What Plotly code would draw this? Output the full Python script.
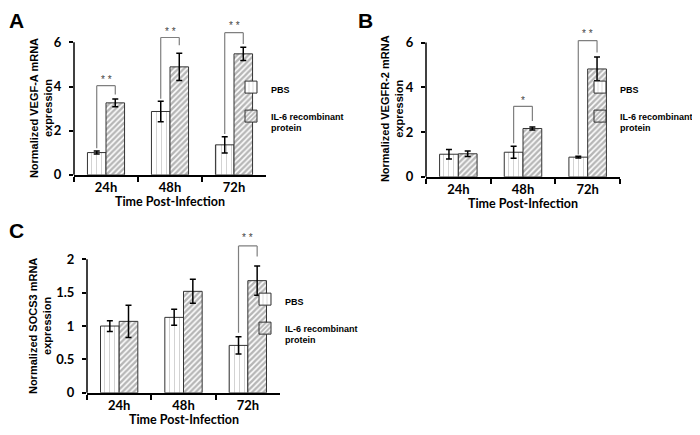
import plotly.graph_objects as go

categories = ["24h", "48h", "72h"]
series_names = ["PBS", "IL-6 recombinant<br>protein"]

# Panel A: VEGF-A
a_pbs = [1.01, 2.87, 1.36]
a_pbs_err = [0.07, 0.46, 0.37]
a_il6 = [3.26, 4.89, 5.48]
a_il6_err = [0.18, 0.62, 0.30]
a_sig = ["* *", "* *", "* *"]
a_brk_left = [1.20, 3.45, 1.85]
a_brk_top = [4.04, 6.22, 6.44]
a_brk_right = [3.64, 5.87, 5.92]
a_star_y = [4.30, 6.49, 6.76]

# Panel B: VEGFR-2
b_pbs = [1.01, 1.10, 0.88]
b_pbs_err = [0.21, 0.27, 0.04]
b_il6 = [1.03, 2.16, 4.82]
b_il6_err = [0.12, 0.07, 0.53]
b_sig = [None, "*", "* *"]
b_brk_left = [None, 1.50, 1.00]
b_brk_top = [None, 3.15, 6.09]
b_brk_right = [None, 2.50, 5.56]
b_star_y = [None, 3.40, 6.40]

# Panel C: SOCS3
c_pbs = [1.00, 1.13, 0.71]
c_pbs_err = [0.08, 0.12, 0.13]
c_il6 = [1.07, 1.52, 1.68]
c_il6_err = [0.24, 0.18, 0.22]
c_sig = [None, None, "* *"]
c_brk_left = [None, None, 0.90]
c_brk_top = [None, None, 2.20]
c_brk_right = [None, None, 2.04]
c_star_y = [None, None, 2.32]

W, H = 700, 435
bargap = 0.42
half = (1 - bargap) / 4.0

panels = [
    dict(letter="A", ax="", lg="legend", pbs=a_pbs, pbs_err=a_pbs_err, il6=a_il6, il6_err=a_il6_err,
         sig=a_sig, bl=a_brk_left, bt=a_brk_top, br=a_brk_right, sy=a_star_y,
         ytitle="Normalized VEGF-A mRNA<br>expression", tickvals=[0, 2, 4, 6], ticktext=["0", "2", "4", "6"], ytop=6,
         px0=66, px1=258, py0=170, scale=22.5, ymax=7.0, letter_xy=(0, 0), ytitle_xy=(33, 102),
         legend_xy=(223, 68)),
    dict(letter="B", ax="2", lg="legend2", pbs=b_pbs, pbs_err=b_pbs_err, il6=b_il6, il6_err=b_il6_err,
         sig=b_sig, bl=b_brk_left, bt=b_brk_top, br=b_brk_right, sy=b_star_y,
         ytitle="Normalized VEGFR-2 mRNA<br>expression", tickvals=[0, 2, 4, 6], ticktext=["0", "2", "4", "6"], ytop=6,
         px0=418, px1=612, py0=172, scale=22.8, ymax=7.0, letter_xy=(349, 0), ytitle_xy=(384, 103),
         legend_xy=(572, 68)),
    dict(letter="C", ax="3", lg="legend3", pbs=c_pbs, pbs_err=c_pbs_err, il6=c_il6, il6_err=c_il6_err,
         sig=c_sig, bl=c_brk_left, bt=c_brk_top, br=c_brk_right, sy=c_star_y,
         ytitle="Normalized SOCS3 mRNA<br>expression", tickvals=[0, 0.5, 1, 1.5, 2], ticktext=["0", "0.5", "1", "1.5", "2"], ytop=2,
         px0=79, px1=272, py0=392, scale=68.0, ymax=2.45, letter_xy=(0, 214), ytitle_xy=(32, 324),
         legend_xy=(237, 284)),
]

TICKFONT = dict(family="Lato", size=13, color="black", weight="bold")
ARIALB = "Liberation Sans"

fig = go.Figure()
shapes = []
annotations = []
layout_extra = {}

for p in panels:
    xa = "x" + p["ax"]
    ya = "y" + p["ax"]
    fig.add_trace(go.Bar(
        x=categories, y=p["pbs"], name=series_names[0], xaxis=xa, yaxis=ya, legend=p["lg"],
        legendgroup=p["letter"] + "pbs",
        error_y=dict(type="data", array=p["pbs_err"], color="black", thickness=1.5, width=3),
        marker=dict(color="white", line=dict(color="#333333", width=1),
                    pattern=dict(shape="|", fgcolor="#a8a8a8", bgcolor="white", size=5, solidity=0.2)),
    ))
    fig.add_trace(go.Bar(
        x=categories, y=p["il6"], name=series_names[1], xaxis=xa, yaxis=ya, legend=p["lg"],
        legendgroup=p["letter"] + "il6",
        error_y=dict(type="data", array=p["il6_err"], color="black", thickness=1.5, width=3),
        marker=dict(color="white", line=dict(color="#333333", width=1),
                    pattern=dict(shape="/", fgcolor="#6e6e6e", bgcolor="white", size=4, solidity=0.62)),
    ))

    dom_x = [p["px0"] / W, p["px1"] / W]
    dom_y = [1 - p["py0"] / H, 1 - (p["py0"] - p["scale"] * p["ymax"]) / H]
    key = p["ax"]
    layout_extra["xaxis" + key] = dict(
        domain=dom_x, anchor=ya, type="category", showline=True, linecolor="black", linewidth=1.5,
        ticks="outside", tickson="boundaries", ticklen=5, tickwidth=1.5, tickcolor="black",
        showgrid=False, zeroline=False, tickfont=TICKFONT, range=[-0.5, 2.5],
    )
    layout_extra["yaxis" + key] = dict(
        domain=dom_y, anchor=xa, range=[0, p["ymax"]], tickvals=p["tickvals"], ticktext=p["ticktext"],
        ticks="outside", ticklen=4, tickwidth=1.5, tickcolor="black", showline=False, showgrid=False,
        zeroline=False, tickfont=TICKFONT, ticklabelstandoff=5,
    )
    # y axis line only up to the top tick
    shapes.append(dict(type="line", xref=xa + " domain", yref=ya + " domain", x0=0, x1=0, y0=0,
                       y1=p["ytop"] / p["ymax"], line=dict(color="black", width=1.5)))
    # significance brackets
    for i in range(len(categories)):
        if p["sig"][i] is None:
            continue
        xl, xr = i - half, i + half
        for (x0, y0, x1, y1) in [(xl, p["bl"][i], xl, p["bt"][i]), (xl, p["bt"][i], xr, p["bt"][i]),
                                 (xr, p["bt"][i], xr, p["br"][i])]:
            shapes.append(dict(type="line", xref=xa, yref=ya, x0=x0, y0=y0, x1=x1, y1=y1,
                               line=dict(color="#7f7f7f", width=1.2)))
        annotations.append(dict(x=i, y=p["sy"][i], xref=xa, yref=ya, text=p["sig"][i], showarrow=False,
                                font=dict(family=ARIALB, size=10, color="#444444"), yanchor="middle"))
    # x title
    annotations.append(dict(x=(p["px0"] + p["px1"]) / 2 / W, y=1 - (p["py0"] + 27) / H, xref="paper", yref="paper",
                            text="Time Post-Infection", showarrow=False, xanchor="center", yanchor="middle",
                            font=dict(family="Lato", size=12.5, color="black", weight="bold")))
    # y title
    annotations.append(dict(x=p["ytitle_xy"][0] / W, y=1 - p["ytitle_xy"][1] / H, xref="paper", yref="paper",
                            text=p["ytitle"], showarrow=False, textangle=-90, xanchor="center", yanchor="middle",
                            font=dict(family=ARIALB, size=11, color="black", weight="bold")))
    # panel letter
    annotations.append(dict(x=p["letter_xy"][0] / W, y=1 - p["letter_xy"][1] / H, xref="paper", yref="paper",
                            text=p["letter"], showarrow=False, xanchor="left", yanchor="top", borderpad=0,
                            font=dict(family=ARIALB, size=21, color="black", weight="bold")))
    layout_extra[p["lg"]] = dict(
        x=p["legend_xy"][0] / W, y=1 - p["legend_xy"][1] / H, xanchor="left", yanchor="top",
        bgcolor="rgba(0,0,0,0)", font=dict(family=ARIALB, size=9, color="black", weight="bold"),
        tracegroupgap=10, itemwidth=30, valign="top", traceorder="grouped",
    )

fig.update_layout(
    width=W, height=H, margin=dict(l=0, r=0, t=0, b=0), paper_bgcolor="white", plot_bgcolor="white",
    barmode="group", bargap=bargap, bargroupgap=0, shapes=shapes, annotations=annotations,
    **layout_extra,
)

fig.write_html("out.html")
